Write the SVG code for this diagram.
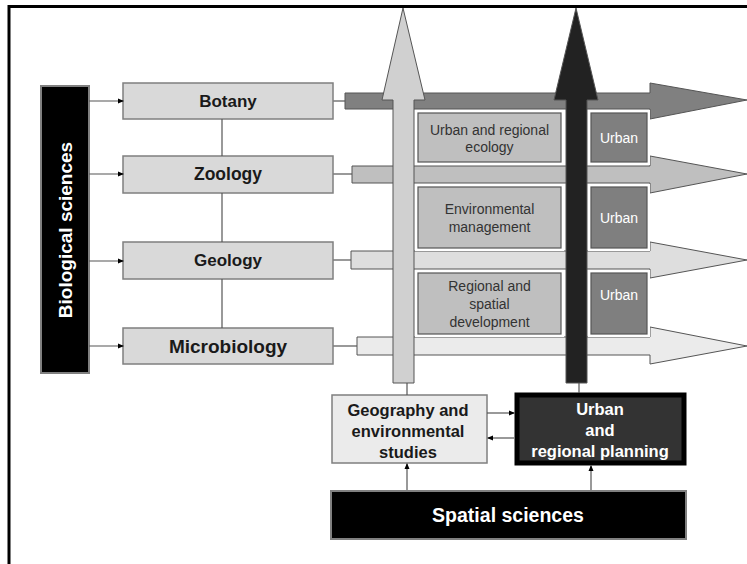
<svg xmlns="http://www.w3.org/2000/svg" width="747" height="564" viewBox="0 0 747 564">
  <defs>
    <marker id="tip" markerWidth="6" markerHeight="6" refX="5" refY="3" orient="auto" markerUnits="userSpaceOnUse">
      <path d="M0,0.5 L6,3 L0,5.5 Z" fill="#000"/>
    </marker>
  </defs>
  <style>
    .frame { fill: none; stroke: #000; stroke-width: 3; }
    .discipline { fill: #d9d9d9; stroke: #7f7f7f; stroke-width: 1.5; }
    .discipline-label { font-family: "Liberation Sans", Arial, sans-serif; font-weight: bold; fill: #1a1a1a; text-anchor: middle; }
    .link { stroke: #555; stroke-width: 1.2; fill: none; }
    .flow { stroke: #555; stroke-width: 1; }
    .field { fill: #bfbfbf; stroke: #555; stroke-width: 1.2; }
    .field-halo { fill: #fff; }
    .field-label { font-family: "Liberation Sans", Arial, sans-serif; font-size: 14px; fill: #333; text-anchor: middle; }
    .urban { fill: #7f7f7f; stroke: #555; stroke-width: 1.2; }
    .urban-label { font-family: "Liberation Sans", Arial, sans-serif; font-size: 14px; fill: #fff; text-anchor: middle; }
    .white-bold { font-family: "Liberation Sans", Arial, sans-serif; font-weight: bold; fill: #fff; text-anchor: middle; }
    .black-bold { font-family: "Liberation Sans", Arial, sans-serif; font-weight: bold; fill: #1a1a1a; text-anchor: middle; }
  </style>

  <rect width="747" height="564" fill="#fff"/>
  <!-- outer frame (top and left edges) -->
  <path class="frame" d="M9,564 V6.5 H747"/>

  <!-- horizontal flows -->
  <g id="flow-botany">
    <line class="link" x1="333" y1="101" x2="345" y2="101"/>
    <path class="flow" fill="#808080" d="M345,93 H650 V83 L747,100 L650,119 V109 H345 Z"/>
  </g>
  <g id="flow-zoology">
    <line class="link" x1="333" y1="174" x2="352" y2="174"/>
    <path class="flow" fill="#bfbfbf" d="M352,166 H650 V156 L747,174 L650,193 V183 H352 Z"/>
  </g>
  <g id="flow-geology">
    <line class="link" x1="333" y1="260" x2="351" y2="260"/>
    <path class="flow" fill="#dedede" d="M351,251 H650 V242 L747,260 L650,278 V269 H351 Z"/>
  </g>
  <g id="flow-microbiology">
    <line class="link" x1="333" y1="346" x2="357" y2="346"/>
    <path class="flow" fill="#ebebeb" d="M357,337 H650 V327 L747,346 L650,364 V355 H357 Z"/>
  </g>

  <!-- fields of study -->
  <g id="field-ecology">
    <rect class="field-halo" x="415" y="110" width="149" height="55"/>
    <rect class="field" x="418" y="113" width="143" height="49"/>
    <text class="field-label" x="489.5" y="135">Urban and regional</text>
    <text class="field-label" x="489.5" y="152">ecology</text>
  </g>
  <g id="urban-1">
    <rect class="field-halo" x="588" y="110" width="62" height="55"/>
    <rect class="urban" x="591" y="113" width="56" height="49"/>
    <text class="urban-label" x="619" y="143">Urban</text>
  </g>
  <g id="field-environment">
    <rect class="field-halo" x="415" y="184" width="149" height="67"/>
    <rect class="field" x="418" y="187" width="143" height="61"/>
    <text class="field-label" x="489.5" y="214">Environmental</text>
    <text class="field-label" x="489.5" y="232">management</text>
  </g>
  <g id="urban-2">
    <rect class="field-halo" x="588" y="184" width="62" height="67"/>
    <rect class="urban" x="591" y="187" width="56" height="61"/>
    <text class="urban-label" x="619" y="223">Urban</text>
  </g>
  <g id="field-regional">
    <rect class="field-halo" x="415" y="270" width="149" height="67"/>
    <rect class="field" x="418" y="273" width="143" height="61"/>
    <text class="field-label" x="489.5" y="291">Regional and</text>
    <text class="field-label" x="489.5" y="309">spatial</text>
    <text class="field-label" x="489.5" y="327">development</text>
  </g>
  <g id="urban-3">
    <rect class="field-halo" x="588" y="270" width="62" height="67"/>
    <rect class="urban" x="591" y="273" width="56" height="61"/>
    <text class="urban-label" x="619" y="300">Urban</text>
  </g>

  <!-- vertical flows -->
  <g id="flow-geography">
    <path class="flow" fill="#d0d0d0" d="M393,383 V100 H382 L403,8 L425,100 H414 V383 Z"/>
  </g>
  <g id="flow-planning">
    <path class="flow" fill="#222" d="M566,383 V100 H554 L576,8 L598,100 H587 V383 Z"/>
  </g>

  <!-- disciplines -->
  <g id="biological-sciences">
    <rect x="41" y="86" width="48" height="287" fill="#000" stroke="#808080" stroke-width="2"/>
    <text class="white-bold" font-size="19" transform="translate(72,230) rotate(-90)">Biological sciences</text>
  </g>
  <g id="botany">
    <rect class="discipline" x="123" y="83" width="210" height="36"/>
    <text class="discipline-label" font-size="17" x="228" y="107">Botany</text>
  </g>
  <g id="zoology">
    <rect class="discipline" x="123" y="156" width="210" height="37"/>
    <text class="discipline-label" font-size="17.5" x="228" y="180">Zoology</text>
  </g>
  <g id="geology">
    <rect class="discipline" x="123" y="242" width="210" height="37"/>
    <text class="discipline-label" font-size="17" x="228" y="266">Geology</text>
  </g>
  <g id="microbiology">
    <rect class="discipline" x="123" y="328" width="210" height="36"/>
    <text class="discipline-label" font-size="19" x="228" y="353">Microbiology</text>
  </g>

  <g id="geography">
    <rect x="332" y="395" width="155" height="68" fill="#ebebeb" stroke="#7f7f7f" stroke-width="1.5"/>
    <text class="black-bold" font-size="16.5" x="408" y="416">Geography and</text>
    <text class="black-bold" font-size="16.5" x="408" y="437">environmental</text>
    <text class="black-bold" font-size="16.5" x="408" y="458">studies</text>
  </g>
  <g id="urban-planning">
    <rect x="517" y="395" width="167" height="68" fill="#333" stroke="#000" stroke-width="5"/>
    <text class="white-bold" font-size="16.5" x="600" y="415">Urban</text>
    <text class="white-bold" font-size="16.5" x="600" y="436">and</text>
    <text class="white-bold" font-size="16.5" x="600" y="457">regional planning</text>
  </g>
  <g id="spatial-sciences">
    <rect x="331" y="491" width="355" height="48" fill="#000" stroke="#808080" stroke-width="2"/>
    <text class="white-bold" font-size="19.5" x="508" y="522">Spatial sciences</text>
  </g>

  <!-- connectors -->
  <g id="connectors">
    <line class="link" x1="89" y1="101" x2="123" y2="101" marker-end="url(#tip)"/>
    <line class="link" x1="89" y1="174" x2="123" y2="174" marker-end="url(#tip)"/>
    <line class="link" x1="89" y1="261" x2="123" y2="261" marker-end="url(#tip)"/>
    <line class="link" x1="89" y1="346" x2="123" y2="346" marker-end="url(#tip)"/>
    <line class="link" x1="222" y1="119" x2="222" y2="156"/>
    <line class="link" x1="222" y1="193" x2="222" y2="242"/>
    <line class="link" x1="222" y1="279" x2="222" y2="328"/>
    <line class="link" x1="407" y1="383" x2="407" y2="395"/>
    <line class="link" x1="579" y1="383" x2="579" y2="393"/>
    <line class="link" x1="487" y1="413" x2="514" y2="413" marker-end="url(#tip)"/>
    <line class="link" x1="514" y1="438" x2="488" y2="438" marker-end="url(#tip)"/>
    <line class="link" x1="407" y1="490" x2="407" y2="464" marker-end="url(#tip)"/>
    <line class="link" x1="591" y1="490" x2="591" y2="466" marker-end="url(#tip)"/>
  </g>
</svg>
